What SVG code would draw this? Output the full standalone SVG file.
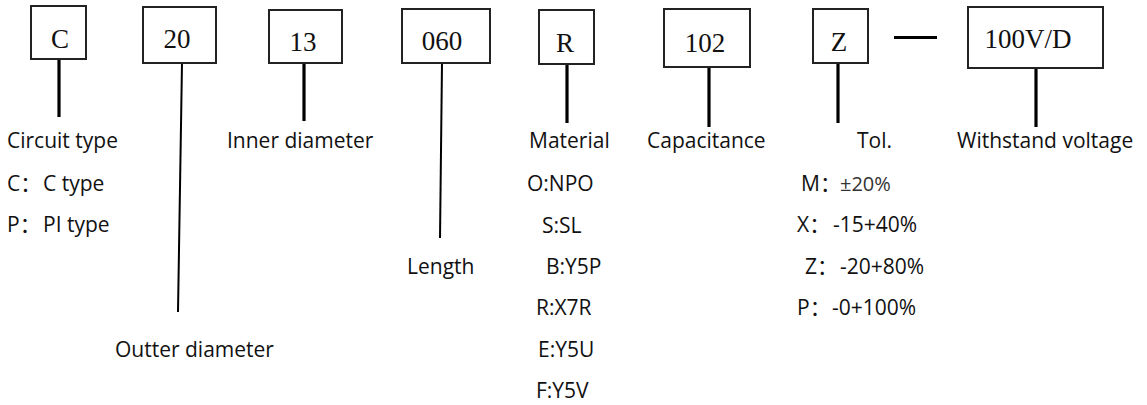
<svg xmlns="http://www.w3.org/2000/svg" width="1147" height="405" viewBox="0 0 1147 405">
<style>
.box{fill:#fff;stroke:#222;stroke-width:2}
.code{font-family:"Liberation Serif","Times New Roman",serif;font-size:27px;fill:#111;text-anchor:middle}
.lbl{font-family:"Open Sans","Noto Sans CJK SC",sans-serif;font-size:21px;fill:#111}
.thick{stroke:#000;stroke-width:3.2;fill:none}
.thin{stroke:#000;stroke-width:2;fill:none}
.sm{font-size:20px;fill:#333}
</style>
<rect width="1147" height="405" fill="#fff"/>
<g id="connectors">
<line class="thick" x1="59" y1="59" x2="59" y2="117"/>
<line class="thin" x1="182" y1="63" x2="178" y2="312"/>
<line class="thick" x1="304" y1="63" x2="304" y2="121"/>
<line class="thin" x1="442" y1="63" x2="440" y2="238"/>
<line class="thick" x1="567" y1="64" x2="567" y2="123"/>
<line class="thick" x1="709" y1="68" x2="709" y2="127"/>
<line class="thick" x1="838" y1="63" x2="838" y2="123"/>
<line class="thick" x1="894" y1="37.5" x2="937" y2="37.5"/>
<line class="thick" x1="1036" y1="69" x2="1036" y2="127"/>
</g>
<g id="node-circuit">
<rect class="box" x="31" y="6" width="55" height="53"/>
<text class="code" x="60" y="48">C</text>
<text class="lbl" x="7" y="148">Circuit type</text>
<text class="lbl" x="7" y="191">C：<tspan x="43">C type</tspan></text>
<text class="lbl" x="7" y="232">P：<tspan x="43">PI type</tspan></text>
</g>
<g id="node-outer">
<rect class="box" x="143" y="7" width="73" height="56"/>
<text class="code" x="177" y="48">20</text>
<text class="lbl" x="115" y="357">Outter diameter</text>
</g>
<g id="node-inner">
<rect class="box" x="269" y="10" width="73" height="53"/>
<text class="code" x="303" y="51">13</text>
<text class="lbl" x="227" y="148">Inner diameter</text>
</g>
<g id="node-length">
<rect class="box" x="402" y="9" width="88" height="54"/>
<text class="code" x="442" y="50">060</text>
<text class="lbl" x="407" y="274">Length</text>
</g>
<g id="node-material">
<rect class="box" x="539" y="10" width="55" height="54"/>
<text class="code" x="565" y="52">R</text>
<text class="lbl" x="529" y="148">Material</text>
<text class="lbl" x="527" y="191">O:NPO</text>
<text class="lbl" x="542" y="233">S:SL</text>
<text class="lbl" x="546" y="274">B:Y5P</text>
<text class="lbl" x="536" y="315">R:X7R</text>
<text class="lbl" x="538" y="357">E:Y5U</text>
<text class="lbl" x="536" y="398">F:Y5V</text>
</g>
<g id="node-capacitance">
<rect class="box" x="664" y="9" width="86" height="58"/>
<text class="code" x="705" y="52">102</text>
<text class="lbl" x="647" y="148">Capacitance</text>
</g>
<g id="node-tol">
<rect class="box" x="813" y="9" width="55" height="54"/>
<text class="code" x="839" y="51">Z</text>
<text class="lbl" x="857" y="148">Tol.</text>
<text class="lbl" x="801" y="191">M：<tspan class="sm" x="840">±20%</tspan></text>
<text class="lbl" x="797" y="232">X：<tspan x="833">-15+40%</tspan></text>
<text class="lbl" x="805" y="274">Z：<tspan x="840">-20+80%</tspan></text>
<text class="lbl" x="797" y="315">P：<tspan x="832">-0+100%</tspan></text>
</g>
<g id="node-voltage">
<rect class="box" x="968" y="7" width="135" height="61"/>
<text class="code" x="1028" y="48">100V/D</text>
<text class="lbl" x="957" y="148">Withstand voltage</text>
</g>
</svg>
